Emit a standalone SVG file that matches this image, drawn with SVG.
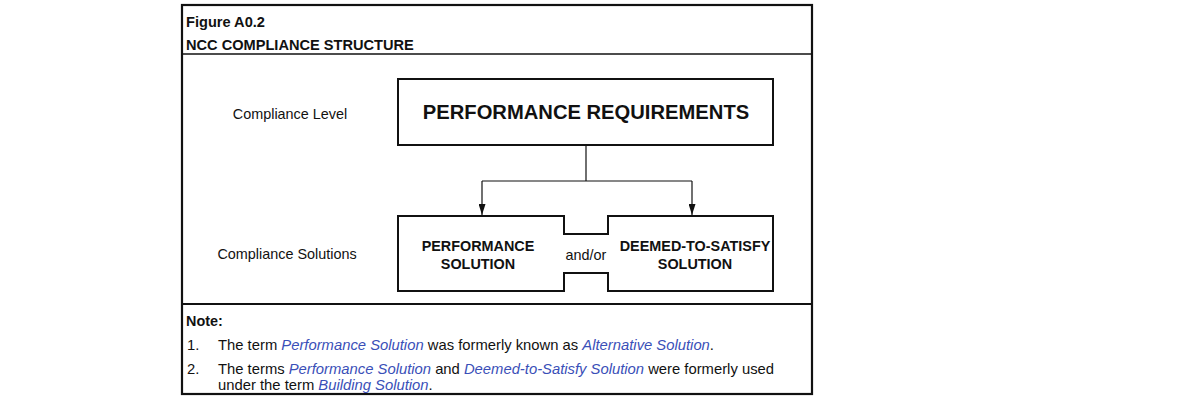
<svg xmlns="http://www.w3.org/2000/svg" width="1180" height="413" viewBox="0 0 1180 413">
<style>
text{font-family:"Liberation Sans",Arial,sans-serif;fill:#111}
.b{font-weight:bold}
.t{font-size:14.6px}
.r{font-size:14.4px}
.n{font-size:14.8px}
.m{text-anchor:middle}
.i{font-style:italic;fill:#3a4fb8}
.box{fill:#fff;stroke:#111;stroke-width:2}
.ln{fill:none;stroke:#111;stroke-width:1.2}
</style>
<defs>
<marker id="ah" markerWidth="11" markerHeight="7" refX="11" refY="3.5" orient="auto" markerUnits="userSpaceOnUse" viewBox="0 0 11 7">
<path d="M0,0 L11,3.5 L0,7 Z" fill="#111"/>
</marker>
</defs>
<rect width="1180" height="413" fill="#fff"/>
<g id="frame">
<rect x="182" y="5" width="630" height="389" fill="none" stroke="#111" stroke-width="2.2"/>
<line x1="182" y1="54" x2="812" y2="54" stroke="#111" stroke-width="1.5"/>
<line x1="182" y1="304" x2="812" y2="304" stroke="#111" stroke-width="2"/>
<text class="b t" x="186" y="27">Figure A0.2</text>
<text class="b t" x="186" y="50">NCC COMPLIANCE STRUCTURE</text>
</g>
<g id="labels">
<text class="r m" x="290" y="119">Compliance Level</text>
<text class="r m" x="287" y="259">Compliance Solutions</text>
</g>
<g id="connectors">
<path class="ln" d="M586,145 V181 M482,181 H692"/>
<path class="ln" d="M482,181 V215" marker-end="url(#ah)"/>
<path class="ln" d="M692,181 V215" marker-end="url(#ah)"/>
</g>
<g id="performance-requirements">
<rect class="box" x="398" y="79" width="375" height="66"/>
<text class="b m" x="586" y="119" font-size="20.2">PERFORMANCE REQUIREMENTS</text>
</g>
<g id="solutions">
<path class="box" d="M398,216 H564 V234 H608 V216 H773 V291 H608 V273 H564 V291 H398 Z"/>
</g>
<g id="performance-solution">
<text class="b r m" x="478" y="251">PERFORMANCE</text>
<text class="b r m" x="478" y="269">SOLUTION</text>
</g>
<g id="andor">
<text class="r m" x="586" y="260">and/or</text>
</g>
<g id="dts-solution">
<text class="b r m" x="695" y="251">DEEMED-TO-SATISFY</text>
<text class="b r m" x="695" y="269">SOLUTION</text>
</g>
<g id="notes">
<text class="b r" x="186" y="326">Note:</text>
<text class="n" x="187" y="350">1.</text>
<text class="n" x="218" y="350">The term <tspan class="i">Performance Solution</tspan> was formerly known as <tspan class="i">Alternative Solution</tspan>.</text>
<text class="n" x="187" y="374">2.</text>
<text class="n" x="218" y="374">The terms <tspan class="i">Performance Solution</tspan> and <tspan class="i">Deemed-to-Satisfy Solution</tspan> were formerly used</text>
<text class="n" x="218" y="390">under the term <tspan class="i">Building Solution</tspan>.</text>
</g>
</svg>
